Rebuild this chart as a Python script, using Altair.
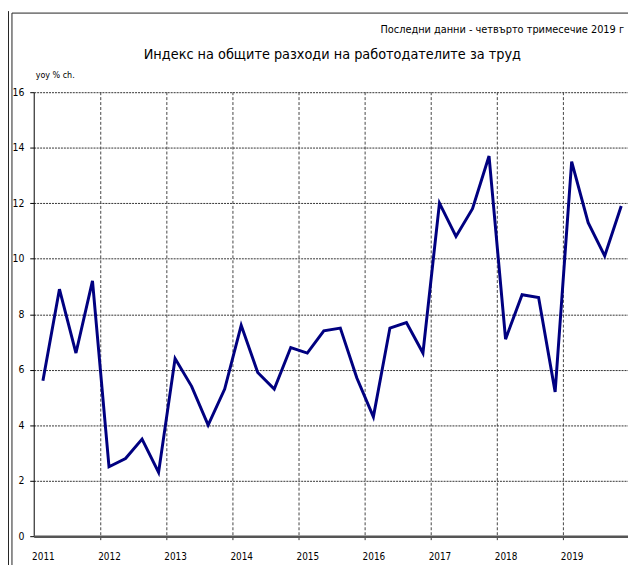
import altair as alt
import pandas as pd

# ---------------- data ----------------
years = ["2011", "2012", "2013", "2014", "2015", "2016", "2017", "2018", "2019"]
values = [5.6, 8.9, 6.6, 9.2,
          2.5, 2.8, 3.5, 2.3,
          6.4, 5.4, 4.0, 5.3,
          7.6, 5.9, 5.3, 6.8,
          6.6, 7.4, 7.5, 5.7,
          4.3, 7.5, 7.7, 6.6,
          12.0, 10.8, 11.8, 13.7,
          7.1, 8.7, 8.6, 5.2,
          13.5, 11.3, 10.1, 11.9]
y_ticks = [0, 2, 4, 6, 8, 10, 12, 14, 16]
title_text = "Индекс на общите разходи на работодателите за труд"
subtitle_text = "Последни данни - четвърто тримесечие 2019 г"
unit_text = "yoy % ch."

# ---------------- layout ----------------
FONT = "DejaVu Sans Condensed, DejaVu Sans, sans-serif"
W, H = 601, 449

df = pd.DataFrame({"i": list(range(len(values))), "v": values})
bounds = pd.DataFrame({"b": [4 * k - 0.5 for k in range(1, len(years))]})
one = pd.DataFrame({"t": [0]})

xscale = alt.Scale(domain=[-0.557, 35.41], nice=False, zero=False)
yscale = alt.Scale(domain=[0, 16], nice=False, zero=True)

label_expr = "[" + ",".join(f"'{y}'" for y in years) + "][datum.value / 4]"
year_pos = [4 * k for k in range(len(years))]

line = alt.Chart(df).mark_line(color="#000080", strokeWidth=3).encode(
    x=alt.X("i:Q", scale=xscale, title=None,
            axis=alt.Axis(values=year_pos, labelExpr=label_expr, ticks=False,
                          grid=False, domain=True, domainColor="#555555",
                          domainWidth=2.5, labelPadding=16, labelFontSize=10,
                          labelFont=FONT, labelColor="black", labelFlush=False,
                          labelAngle=0, zindex=1)),
    y=alt.Y("v:Q", scale=yscale, title=None,
            axis=alt.Axis(values=y_ticks, grid=True, gridDash=[2, 1],
                          gridColor="#333333", gridWidth=1, domainColor="black",
                          domainWidth=1, tickColor="black", tickSize=4,
                          labelPadding=6, labelFontSize=10.5, labelFont=FONT,
                          labelColor="black")),
)

vgrid = alt.Chart(bounds).mark_rule(color="#444444", strokeWidth=1,
                                    strokeDash=[3, 2]).encode(
    x=alt.X("b:Q", scale=xscale), y=alt.value(0), y2=alt.value(H))

vticks = alt.Chart(bounds).mark_rule(color="#333333", strokeWidth=1).encode(
    x=alt.X("b:Q", scale=xscale), y=alt.value(H), y2=alt.value(H + 4))

frame_left = alt.Chart(one).mark_rule(color="#222222", strokeWidth=1).encode(
    x=alt.value(-22), y=alt.value(-80), y2=alt.value(480))
frame_top = alt.Chart(one).mark_rule(color="#222222", strokeWidth=1).encode(
    x=alt.value(-22), x2=alt.value(W + 10), y=alt.value(-80))
frame_outer = alt.Chart(one).mark_rule(color="#222222", strokeWidth=1).encode(
    x=alt.value(-25.5), y=alt.value(-82), y2=alt.value(480))

title_df = pd.DataFrame({"t": [title_text]})
sub_df = pd.DataFrame({"t": [subtitle_text]})
unit_df = pd.DataFrame({"t": [unit_text]})

title = alt.Chart(title_df).mark_text(font=FONT, fontSize=14.5,
                                      align="center", baseline="middle",
                                      color="black").encode(
    text="t:N", x=alt.value(302), y=alt.value(-38))
subtitle = alt.Chart(sub_df).mark_text(font=FONT, fontSize=11,
                                       align="right", baseline="middle",
                                       color="black").encode(
    text="t:N", x=alt.value(597), y=alt.value(-63))
unit = alt.Chart(unit_df).mark_text(font=FONT, fontSize=9, align="left",
                                    baseline="middle", color="black").encode(
    text="t:N", x=alt.value(2), y=alt.value(-17))

chart = alt.layer(vgrid, vticks, line, frame_outer, frame_left, frame_top,
                  title, subtitle, unit).properties(
    width=W, height=H,
    autosize=alt.AutoSizeParams(type="none"),
    padding={"left": 26, "top": 82, "right": 0, "bottom": 26},
    background="white",
).configure_view(stroke=None)

chart.save("out.html", embed_options={"renderer": "svg", "actions": False})
